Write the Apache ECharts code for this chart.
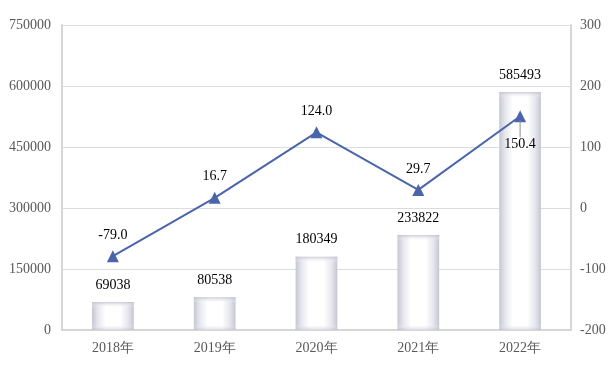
<!DOCTYPE html>
<html>
<head>
<meta charset="utf-8">
<script src="https://cdn.jsdelivr.net/npm/echarts@6/dist/echarts.min.js"></script>
<style>
	html, body { margin: 0; padding: 0; background: #fff; }
	#chart { width: 615px; height: 378px; }
</style>
</head>
<body>
<div id="chart"></div>
<script>
const years = [ '2018年', '2019年', '2020年', '2021年', '2022年' ];
const amounts = [ 69038, 80538, 180349, 233822, 585493 ];
const growth = [ -79.0, 16.7, 124.0, 29.7, 150.4 ];

const amountMax = 750000;
const serif = '"Liberation Serif", "Times New Roman", "DejaVu Serif", serif';
const axisGrey = '#d6d6d6';
const lineBlue = '#4a65aa';

const chart = echarts.init( document.getElementById( 'chart' ) );

// white centre fading to grey at the sides
const barFill = {
	type: 'linear', x: 0, y: 0, x2: 1, y2: 0,
	colorStops: [
		{ offset: 0, color: '#c6c6d2' },
		{ offset: 0.14, color: '#e6e6ee' },
		{ offset: 0.32, color: '#ffffff' },
		{ offset: 0.68, color: '#ffffff' },
		{ offset: 0.86, color: '#e6e6ee' },
		{ offset: 1, color: '#c6c6d2' }
	]
};

// top / bottom shading, about 6px whatever the bar height
function edgeShade( value ) {
	const px = value / amountMax * 305;
	const f = Math.min( 0.45, 6 / px );
	return {
		type: 'linear', x: 0, y: 0, x2: 0, y2: 1,
		colorStops: [
			{ offset: 0, color: 'rgba(190,190,205,0.8)' },
			{ offset: f, color: 'rgba(255,255,255,0)' },
			{ offset: 1 - f, color: 'rgba(255,255,255,0)' },
			{ offset: 1, color: 'rgba(190,190,205,0.6)' }
		]
	};
}

chart.setOption( {
	animation: false,
	grid: { left: 62, right: 44, top: 25, bottom: 48 },
	xAxis: {
		type: 'category',
		data: years,
		axisLine: { lineStyle: { color: axisGrey, width: 2 } },
		axisTick: { show: false },
		axisLabel: { color: '#595959', fontFamily: serif, fontSize: 14, margin: 11 }
	},
	yAxis: [
		{
			type: 'value',
			min: 0,
			max: amountMax,
			interval: 150000,
			axisLine: { show: true, lineStyle: { color: axisGrey, width: 2 } },
			axisTick: { show: false },
			splitLine: { lineStyle: { color: '#dcdcdc', width: 1 } },
			axisLabel: {
				color: '#595959', fontFamily: serif, fontSize: 14, margin: 11,
				formatter: ( v ) => String( v )
			}
		},
		{
			type: 'value',
			min: -200,
			max: 300,
			interval: 100,
			axisLine: { show: true, lineStyle: { color: axisGrey, width: 2 } },
			axisTick: { show: false },
			splitLine: { show: false },
			axisLabel: { color: '#595959', fontFamily: serif, fontSize: 14, margin: 9 }
		}
	],
	series: [
		{
			type: 'bar',
			data: amounts,
			barWidth: '41%',
			itemStyle: { color: barFill },
			label: {
				show: true,
				position: 'top',
				distance: 10,
				color: '#000',
				fontFamily: serif,
				fontSize: 14
			}
		},
		{
			type: 'bar',
			silent: true,
			barGap: '-100%',
			barWidth: '41%',
			data: amounts.map( ( v ) => ( { value: v, itemStyle: { color: edgeShade( v ) } } ) )
		},
		{
			type: 'line',
			yAxisIndex: 1,
			z: 5,
			data: growth.map( ( v, i ) => {
				if ( i === growth.length - 1 ) {
					// last label sits under the point with a short leader
					return {
						value: v,
						label: {
							position: 'bottom',
							distance: -2,
							formatter: ( p ) => '{stem|}\n' + p.value.toFixed( 1 ),
							rich: {
								stem: { width: 1, height: 17, backgroundColor: '#8c8c8c' }
							}
						}
					};
				}
				return v;
			} ),
			symbol: 'triangle',
			symbolSize: 12,
			lineStyle: { color: lineBlue, width: 2 },
			itemStyle: { color: lineBlue },
			label: {
				show: true,
				position: 'top',
				distance: 8,
				color: '#000',
				fontFamily: serif,
				fontSize: 14,
				formatter: ( p ) => p.value.toFixed( 1 )
			}
		}
	]
} );
</script>
</body>
</html>
